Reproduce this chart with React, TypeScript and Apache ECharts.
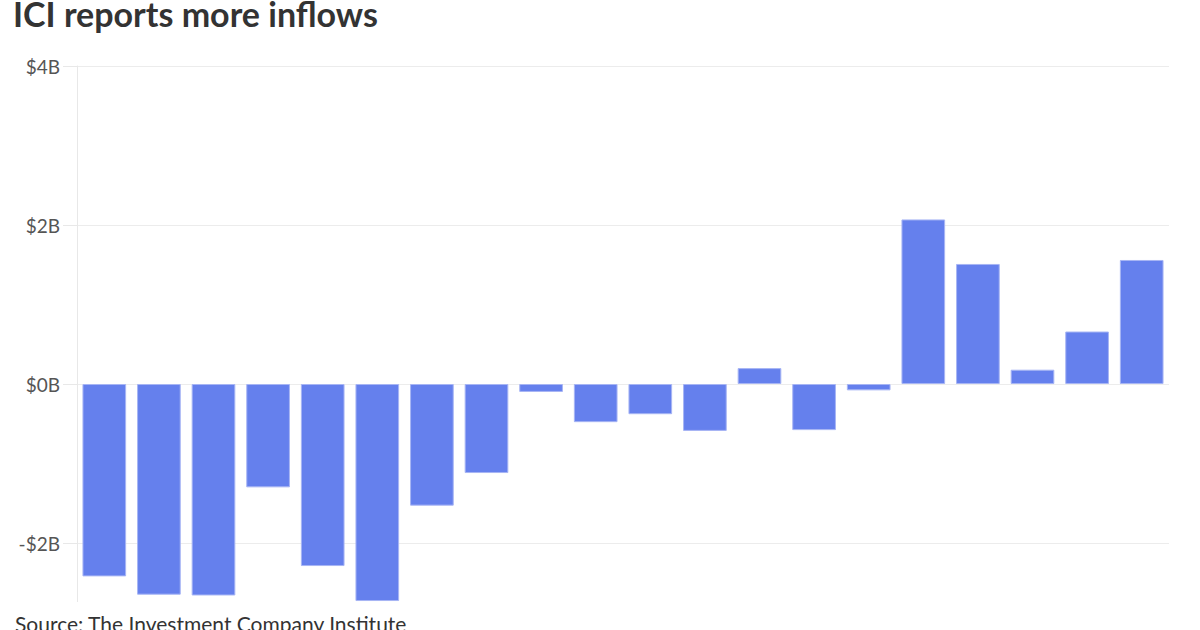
import React, { useEffect, useRef } from "react";
import * as echarts from "echarts";

const categories = [
  "1", "2", "3", "4", "5", "6", "7", "8", "9", "10",
  "11", "12", "13", "14", "15", "16", "17", "18", "19", "20",
];
const flows = [
  -2.42, -2.65, -2.66, -1.3, -2.29, -2.73, -1.53, -1.12, -0.1, -0.48,
  -0.38, -0.59, 0.2, -0.58, -0.08, 2.07, 1.51, 0.18, 0.66, 1.56,
];
const yTicks = [-4, -2, 0, 2, 4];
const titleText = "ICI reports more inflows";
const sourceText = "Source: The Investment Company Institute";

export default function App() {
  const ref = useRef<HTMLDivElement>(null);
  useEffect(() => {
    if (!ref.current) return;
    const chart = echarts.init(ref.current, undefined, { renderer: "svg" });
    chart.setOption({
      animation: false,
      backgroundColor: "#ffffff",
      textStyle: { fontFamily: "Lato" },
      title: {
        text: titleText,
        left: 8,
        top: -9,
        textStyle: { fontFamily: "Lato", fontWeight: "bold", fontSize: 34, color: "#333333" },
      },
      grid: {
        left: 77,
        right: 31,
        top: 66,
        height: 636,
        containLabel: false,
        outerBoundsMode: "none",
      },
      xAxis: {
        type: "category",
        data: categories,
        show: false,
      },
      yAxis: {
        type: "value",
        min: yTicks[0],
        max: yTicks[yTicks.length - 1],
        interval: 2,
        axisLine: { show: true, lineStyle: { color: "#e8e8e8", width: 1 } },
        axisTick: { show: true, length: 14, lineStyle: { color: "#e8e8e8" } },
        splitLine: { show: true, lineStyle: { color: "#ececec", width: 1 } },
        axisLabel: {
          margin: 17,
          fontSize: 19,
          color: "#555555",
          fontFamily: "Lato",
          showMinLabel: false,
          formatter: (v: number) => (v < 0 ? "-$" + Math.abs(v) + "B" : "$" + v + "B"),
        },
      },
      series: [
        {
          type: "bar",
          data: flows,
          barWidth: "80%",
          itemStyle: { color: "#6580ED", borderColor: "#a7b5f4", borderWidth: 1 },
        },
      ],
      graphic: [
        {
          type: "rect",
          z: 100,
          shape: { x: 0, y: 602, width: 1200, height: 40 },
          style: { fill: "#ffffff" },
        },
        {
          type: "text",
          z: 101,
          left: 15,
          top: 613,
          style: { text: sourceText, fontFamily: "Lato", fontSize: 21, fill: "#333333" },
        },
      ],
    });
    return () => chart.dispose();
  }, []);
  return <div ref={ref} style={{ width: 1200, height: 630, position: "fixed", left: 0, top: 0 }} />;
}
